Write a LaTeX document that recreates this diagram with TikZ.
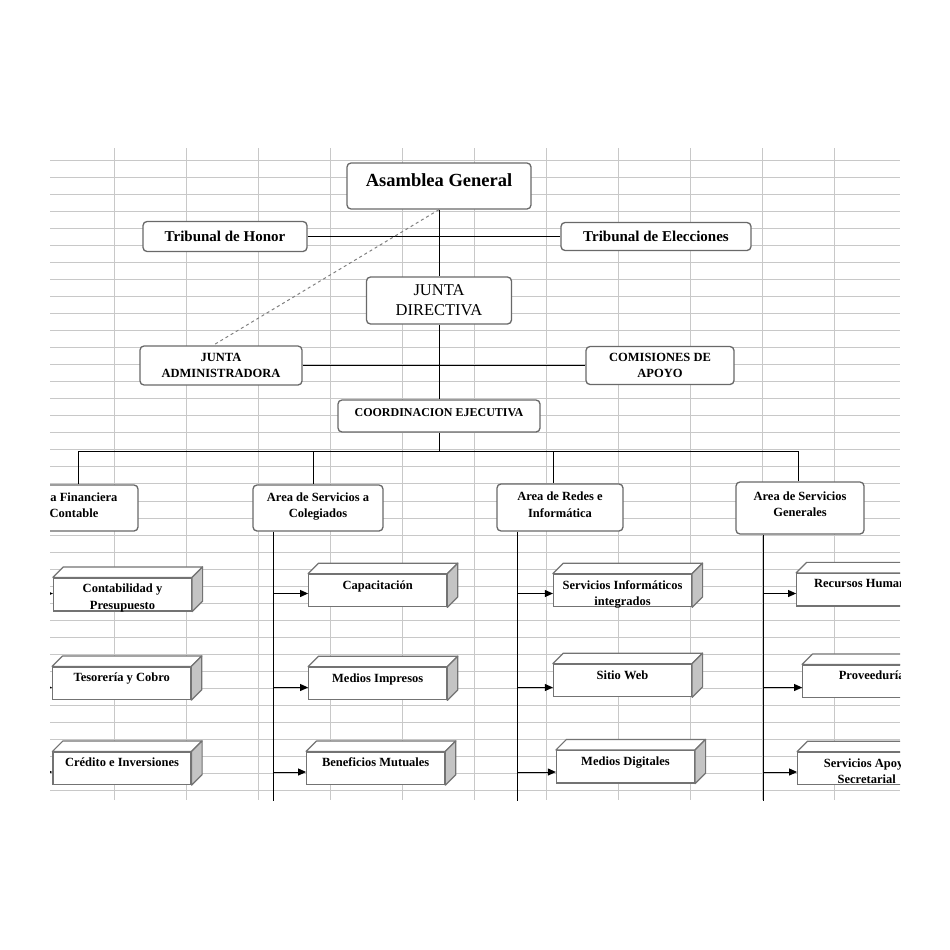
\documentclass[tikz,border=0pt]{standalone}
\usepackage{fontspec}
\setmainfont{Liberation Serif}
\usepackage{xcolor}
\usepackage{tikz}
\usetikzlibrary{arrows.meta}

\definecolor{gridgray}{RGB}{200,200,200}
\definecolor{boxgray}{RGB}{105,105,105}
\definecolor{cubegray}{RGB}{115,115,115}
\definecolor{sidegray}{RGB}{196,196,196}

\tikzset{
	gridline/.style={draw=gridgray,line width=0.8pt},
	orgbox/.style={draw=boxgray,fill=white,rounded corners=4pt,line width=1.3pt,align=center,inner sep=0pt,
		font=\bfseries\fontsize{12.5}{16.5}\selectfont},
	cubefront/.style={draw=cubegray,fill=white,line width=1.2pt,minimum width=138pt,minimum height=32.5pt,inner sep=0pt},
	cubeface/.style={draw=cubegray,fill=white,line width=1.2pt,line join=round},
	cubeside/.style={draw=cubegray,fill=sidegray,line width=1.2pt,line join=round},
	cubetext/.style={anchor=north,yshift=-6.5pt,align=center,inner sep=0pt,
		font=\bfseries\fontsize{12.5}{16.7}\selectfont},
	link/.style={black,line width=1pt},
	dashline/.style={draw=gray,line width=1pt,dash pattern=on 3pt off 3pt}
}

\begin{document}
\begin{tikzpicture}[x=1pt,y=-1pt]
		\useasboundingbox (0,0) rectangle (950,950);
		\clip (50,148) rectangle (900,800);
		% sheet grid
		\foreach \i in {0,...,10}
			\draw[gridline] ({114+72*\i},148) -- ({114+72*\i},800);
		\foreach \j in {0,...,37}
			\draw[gridline] (50,{160.7+17.01*\j}) -- (900,{160.7+17.01*\j});
		%
		\node[orgbox,font=\bfseries\fontsize{18.5}{22}\selectfont,minimum width=184pt,minimum height=46pt,text height=12pt,text depth=12pt] (asam) at (439,186) {Asamblea General};
		\node[orgbox,font=\bfseries\fontsize{15}{18}\selectfont,minimum width=164pt,minimum height=30pt] (thon) at (225,236.5) {Tribunal de Honor};
		\node[orgbox,font=\bfseries\fontsize{15}{18}\selectfont,minimum width=190pt,minimum height=28pt] (telec) at (656,236.5) {Tribunal de Elecciones};
		\node[orgbox,font=\fontsize{16.5}{20}\selectfont,minimum width=145pt,minimum height=47pt] (jdir) at (439,300.5) {JUNTA\\DIRECTIVA};
		\node[orgbox,minimum width=162pt,minimum height=39pt] (jadm) at (221,365.5) {JUNTA\\ADMINISTRADORA};
		\node[orgbox,minimum width=148pt,minimum height=38pt] (comi) at (660,365.5) {COMISIONES DE\\APOYO};
		\node[orgbox,font=\bfseries\fontsize{12}{15}\selectfont,minimum width=202pt,minimum height=32pt,text height=8.5pt,text depth=8.5pt] (coord) at (439,416) {COORDINACION EJECUTIVA};
		% areas
		\node[orgbox,minimum width=128pt,minimum height=46pt,text depth=6pt] (afin) at (74,508) {Area Financiera\\Contable};
		\node[orgbox,minimum width=130pt,minimum height=46pt,text depth=6pt] (acol) at (318,508) {Area de Servicios a\\Colegiados};
		\node[orgbox,minimum width=126pt,minimum height=47pt,text depth=6pt] (ared) at (560,507.5) {Area de Redes e\\Informática};
		\node[orgbox,minimum width=128pt,minimum height=52pt,text depth=8pt] (agen) at (800,508) {Area de Servicios\\Generales};
		% units
		\node[cubefront,minimum height=33pt,label={[cubetext]north:{Contabilidad y\\Presupuesto}}] (cont) at (122.5,594.5) {};
		\node[cubefront,label={[cubetext]north:{Tesorería y Cobro}}] (teso) at (121.7,683.3) {};
		\node[cubefront,label={[cubetext]north:{Crédito e Inversiones}}] (cred) at (122,768.3) {};
		\node[cubefront,label={[cubetext]north:{Capacitación}}] (capa) at (377.7,590.5) {};
		\node[cubefront,label={[cubetext]north:{Medios Impresos}}] (medi) at (377.7,683.5) {};
		\node[cubefront,label={[cubetext]north:{Beneficios Mutuales}}] (bene) at (375.7,768.3) {};
		\node[cubefront,label={[cubetext]north:{Servicios Informáticos\\integrados}}] (serv) at (622.5,590.5) {};
		\node[cubefront,label={[cubetext]north:{Sitio Web}}] (web) at (622.5,680.5) {};
		\node[cubefront,label={[cubetext]north:{Medios Digitales}}] (digi) at (625.5,766.8) {};
		\node[cubefront,label={[cubetext]north:{Recursos Humanos}}] (recu) at (865.7,589.7) {};
		\node[cubefront,label={[cubetext]north:{Proveeduría}}] (prov) at (871.7,681.3) {};
		\node[cubefront,label={[cubetext]north:{Servicios Apoyo\\Secretarial}}] (apoy) at (866.7,768.5) {};
		\foreach \n in {cont,teso,cred,capa,medi,bene,serv,web,digi,recu,prov,apoy}{
			\filldraw[cubeface] (\n.north west) -- ++(10.5pt,10.5pt) -- ([shift={(10.5pt,10.5pt)}]\n.north east) -- (\n.north east) -- cycle;
			\filldraw[cubeside] (\n.north east) -- ++(10.5pt,10.5pt) -- ([shift={(10.5pt,10.5pt)}]\n.south east) -- (\n.south east) -- cycle;
		}
		%
		\coordinate (b1) at (78,451);
		\coordinate (b2) at (313,451);
		\coordinate (b3) at (553,451);
		\coordinate (b4) at (798,451);
		\coordinate (l1) at (30,810);
		\coordinate (l2) at (273,810);
		\coordinate (l3) at (517,810);
		\coordinate (l4) at (763,810);
		\coordinate (r1) at (0,593.5);
		\coordinate (r2) at (0,687.5);
		\coordinate (r3) at (0,772);
		%
		\path[link]
		% upper levels
		(asam) edge (jdir)
		(thon) edge (telec)
		(jdir) edge (coord)
		(jadm) edge (comi)
		(coord) edge (coord |- b1)
		(b1) edge (b4)
		(asam.south) edge[dashline] ([xshift=-8pt]jadm.north)
		% drops to the areas
		(b1) edge (b1 |- afin.north)
		(b2) edge (b2 |- acol.north)
		(b3) edge (b3 |- ared.north)
		(b4) edge (b4 |- agen.north)
		% area lines
		(afin.south -| l1) edge (l1)
		(acol.south -| l2) edge (l2)
		(ared.south -| l3) edge (l3)
		(agen.south -| l4) edge (l4);
		%
		\path[link,-{Triangle[length=8pt,width=7pt]}]
		(l1 |- r1) edge (cont.west |- r1)
		(l1 |- r2) edge (teso.west |- r2)
		(l1 |- r3) edge (cred.west |- r3)
		(l2 |- r1) edge (capa.west |- r1)
		(l2 |- r2) edge (medi.west |- r2)
		(l2 |- r3) edge (bene.west |- r3)
		(l3 |- r1) edge (serv.west |- r1)
		(l3 |- r2) edge (web.west |- r2)
		(l3 |- r3) edge (digi.west |- r3)
		(l4 |- r1) edge (recu.west |- r1)
		(l4 |- r2) edge (prov.west |- r2)
		(l4 |- r3) edge (apoy.west |- r3);
\end{tikzpicture}
\end{document}
